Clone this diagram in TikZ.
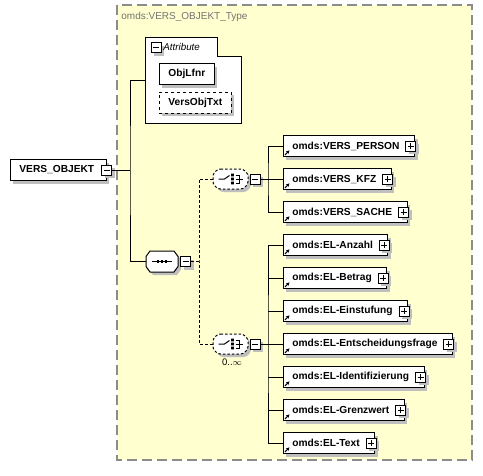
\documentclass[tikz,border=0pt]{standalone}
\usepackage{fontspec}
\setmainfont{Liberation Sans}
\usetikzlibrary{arrows.meta, positioning, calc, shadows}

\definecolor{typebg}{HTML}{FFFFCF}
\definecolor{typeline}{HTML}{8C8C8C}

\begin{document}
\begin{tikzpicture}[
  x=1pt, y=-1pt, line width=0.8pt,
  >={Stealth[length=3.5pt, width=3.5pt]},
  shade/.style={drop shadow={shadow xshift=3pt, shadow yshift=-3pt, fill=black!25, opacity=1}},
  signbox/.style={draw, fill=white, shade, minimum size=10pt, inner sep=0pt, line width=1pt},
  minusbox/.style={signbox, path picture={\draw[line width=1pt] ([xshift=2pt]path picture bounding box.west) -- ([xshift=-2pt]path picture bounding box.east);}},
  plusbox/.style={signbox, path picture={\draw[line width=1pt] ([xshift=2pt]path picture bounding box.west) -- ([xshift=-2pt]path picture bounding box.east) ([yshift=-2pt]path picture bounding box.north) -- ([yshift=2pt]path picture bounding box.south);}},
  boxnode/.style={draw, fill=white, shade, anchor=west, minimum height=21pt, inner xsep=9pt, inner ysep=0pt, font=\fontsize{10.2}{12}\selectfont\bfseries},
  refnode/.style={boxnode, append after command={
      ([shift={(2pt,2pt)}]\tikzlastnode.south west) edge[->, line width=1pt] ([shift={(6.5pt,6.5pt)}]\tikzlastnode.south west)
      node[plusbox] at ([xshift=-4pt]\tikzlastnode.east) {}}},
  seqframe/.style={draw, fill=white, shade, line width=1pt},
  choiceframe/.style={draw, fill=white, shade, line width=1pt, dash pattern=on 2.5pt off 2pt, rounded corners=2.5pt},
  seqicon/.style={minimum width=32pt, minimum height=21pt, inner sep=0pt,
    path picture={
      \draw[line width=1pt] ([xshift=-10pt]path picture bounding box.center) -- ([xshift=10pt]path picture bounding box.center);
      \fill ([xshift=-4pt]path picture bounding box.center) +(-1.2,-1.2) rectangle +(1.2,1.2);
      \fill (path picture bounding box.center) +(-1.2,-1.2) rectangle +(1.2,1.2);
      \fill ([xshift=4pt]path picture bounding box.center) +(-1.2,-1.2) rectangle +(1.2,1.2);}},
  choiceicon/.style={minimum width=35pt, minimum height=20pt, inner sep=0pt,
    path picture={
      \draw[line width=1pt] ([xshift=-12pt]path picture bounding box.center) -- ([xshift=-6pt]path picture bounding box.center) -- ([shift={(-1pt,3.5pt)}]path picture bounding box.center);
      \fill ([xshift=2pt]path picture bounding box.center) +(-1.4,-5.4) rectangle +(1.4,-2.6) +(-1.4,-1.4) rectangle +(1.4,1.4) +(-1.4,2.6) rectangle +(1.4,5.4);
      \draw[line width=1pt] ([shift={(5pt,4pt)}]path picture bounding box.center) -- ([shift={(9pt,4pt)}]path picture bounding box.center) -- ([shift={(9pt,-4pt)}]path picture bounding box.center) -- ([shift={(5pt,-4pt)}]path picture bounding box.center)
        ([xshift=5pt]path picture bounding box.center) -- ([xshift=12pt]path picture bounding box.center);}},
  link/.style={line width=1pt},
  optlink/.style={line width=1pt, dash pattern=on 3pt off 2pt}
]
\useasboundingbox (0,0) rectangle (483,475);

% complex type area
\draw[typeline, fill=typebg, line width=1.2pt, dash pattern=on 10pt off 5pt] (117,5) rectangle (472,460);
\node[anchor=west, text=black!55, font=\fontsize{10}{12}\selectfont, inner sep=0pt] (TypeName) at (121,16.5) {omds:VERS\_OBJEKT\_Type};

% attribute group
\draw[fill=white, line width=1pt] (145,123) -- (145,37) -- (217,37) -- (217,56) -- (241,56) -- (241,123) -- cycle;
\coordinate (AttGrp) at (145,80);
\node[minusbox] (AttPm) at (156,47.5) {};
\node[anchor=west, font=\fontsize{9.8}{11}\selectfont\itshape, inner sep=0pt] (AttName) at (163,47) {Attribute};
\node[boxnode] (ObjLfnr) at (159,74) {ObjLfnr};
\node[boxnode, dashed] (VersObjTxt) at (159,102.5) {VersObjTxt};

% root element
\node[boxnode] (Root) at (10,170) {VERS\_OBJEKT\hspace*{3pt}};
\node[minusbox] (RootPm) at (Root.east) {};
\coordinate (RootFork) at (130,170);

% sequence
\coordinate (SeqC) at (162,261.5);
\draw[seqframe] ([shift={(-12,-10.5)}]SeqC) -- ++(24,0) -- ++(4,5.5) -- ++(0,10) -- ++(-4,5.5) -- ++(-24,0) -- ++(-4,-5.5) -- ++(0,-10) -- cycle;
\node[seqicon] (Seq) at (SeqC) {};
\node[minusbox] (SeqPm) [right=2pt of Seq] {};
\coordinate (SeqFork) at (199,261.5);

% first choice
\coordinate (ChoiceAC) at (230.5,179);
\draw[choiceframe] ([shift={(-12.5,-10)}]ChoiceAC) -- ++(25,0) -- ++(5,5) -- ++(0,10) -- ++(-5,5) -- ++(-25,0) -- ++(-5,-5) -- ++(0,-10) -- cycle;
\node[choiceicon] (ChoiceA) at (ChoiceAC) {};
\node[minusbox] (ChoiceAPm) [right=1.5pt of ChoiceA] {};
\coordinate (ChoiceAFork) at (268,179);
\node[refnode] (Person) at (283,146) {omds:VERS\_PERSON\hspace*{6pt}};
\node[refnode] (Kfz)    at (283,179) {omds:VERS\_KFZ\hspace*{6pt}};
\node[refnode] (Sache)  at (283,212) {omds:VERS\_SACHE\hspace*{6pt}};

% second choice
\coordinate (ChoiceBC) at (230.5,344);
\draw[choiceframe] ([shift={(-12.5,-10)}]ChoiceBC) -- ++(25,0) -- ++(5,5) -- ++(0,10) -- ++(-5,5) -- ++(-25,0) -- ++(-5,-5) -- ++(0,-10) -- cycle;
\node[choiceicon] (ChoiceB) at (ChoiceBC) {};
\node[minusbox] (ChoiceBPm) [right=1.5pt of ChoiceB] {};
\node[font=\fontsize{9.5}{11}\selectfont, inner sep=0pt] (ChoiceBMult) at (232,362.5) {0..$\infty$};
\coordinate (ChoiceBFork) at (268,344);
\node[refnode] (Anzahl)   at (283,245) {omds:EL-Anzahl\hspace*{6pt}};
\node[refnode] (Betrag)   at (283,278) {omds:EL-Betrag\hspace*{6pt}};
\node[refnode] (Einstuf)  at (283,311) {omds:EL-Einstufung\hspace*{6pt}};
\node[refnode] (Entsch)   at (283,344) {omds:EL-Entscheidungsfrage\hspace*{6pt}};
\node[refnode] (Ident)    at (283,377) {omds:EL-Identifizierung\hspace*{6pt}};
\node[refnode] (Grenz)    at (283,410) {omds:EL-Grenzwert\hspace*{6pt}};
\node[refnode] (ElText)   at (283,443) {omds:EL-Text\hspace*{6pt}};

% connectors
\draw[link] (RootPm.east) -- (RootFork);
\draw[link] (AttGrp) -| (RootFork) |- (Seq.west);
\draw[optlink] (SeqPm.east) -- (SeqFork);
\draw[optlink] (ChoiceA.west) -| (SeqFork) |- (ChoiceB.west);

\draw[link] (ChoiceAPm.east) -- (Kfz.west);
\draw[link] (Person.west) -| (ChoiceAFork) |- (Sache.west);

\draw[link] (ChoiceBPm.east) -- (Entsch.west);
\draw[link] (Anzahl.west) -| (ChoiceBFork) |- (ElText.west);
\draw[link] (Betrag.west) -- (Betrag.west -| ChoiceBFork);
\draw[link] (Einstuf.west) -- (Einstuf.west -| ChoiceBFork);
\draw[link] (Ident.west) -- (Ident.west -| ChoiceBFork);
\draw[link] (Grenz.west) -- (Grenz.west -| ChoiceBFork);

\end{tikzpicture}
\end{document}
